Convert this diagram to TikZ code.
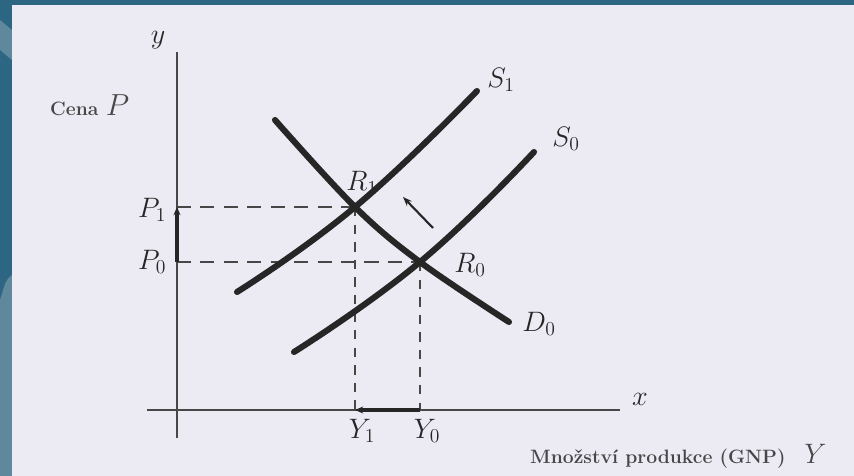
\RequirePackage{fix-cm}
\documentclass[tikz,border=0pt]{standalone}
\usepackage{fontspec}
\usetikzlibrary{arrows.meta,positioning,calc}
\definecolor{slide}{HTML}{2D6683}
\definecolor{slidelight}{HTML}{5F889C}
\definecolor{paper}{HTML}{ECEBF4}
\definecolor{ink}{HTML}{262626}
\newcommand{\bigmath}{\fontsize{24}{26}\selectfont}
\newcommand{\smalltext}{\fontsize{16.5}{18}\selectfont\bfseries}

\begin{document}
\begin{tikzpicture}[x=0.03cm,y=-0.03cm,>=Stealth,
  curve/.style={line width=5.2pt,ink,line cap=round},
  axis/.style={line width=1.4pt,ink!85},
  guide/.style={line width=1.5pt,ink!85,dash pattern=on 12pt off 8pt},
  move/.style={line width=2.6pt,ink,-{Stealth[length=7pt,width=6pt]}},
  lab/.style={font=\bigmath,text=ink,inner sep=0pt}]
\useasboundingbox (0,0) rectangle (854,476);
% slide behind the scanned page
\fill[slide] (0,0) rectangle (854,476);
\fill[slidelight] (0,20) -- (12,30) -- (12,60) -- (0,50) -- cycle;
\fill[slidelight] (0,300) .. controls (6,280) .. (12,275) -- (12,476) -- (0,476) -- cycle;
\fill[paper] (12,5) rectangle (854,476);

% axes and points
\coordinate (ytop) at (177,52);\coordinate (ybot) at (177,438);
\coordinate (xleft) at (147,410);\coordinate (xright) at (620,410);
\coordinate (P1) at (177,207);\coordinate (P0) at (177,262);
\coordinate (R1) at (355,207);\coordinate (R0) at (420,262);
\coordinate (Y1) at (355,410);\coordinate (Y0) at (420,410);
\draw[axis] (ytop)--(ybot);
\draw[axis] (xleft)--(xright);

% guides to the axes
\draw[guide] (P1)--(R1);\draw[guide] (P0)--(R0);
\draw[guide,dash pattern=on 8pt off 7pt] (R1)--(Y1);
\draw[guide,dash pattern=on 8pt off 7pt] (R0)--(Y0);

% supply and demand
\draw[curve] plot[smooth,tension=0.8] coordinates {(237,292) (R1) (477,91)};
\draw[curve] plot[smooth,tension=0.8] coordinates {(294,352) (R0) (534,152)};
\draw[curve] plot[smooth,tension=0.6] coordinates {(275,120) (R1) (R0) (509,322)};

% shifts
\draw[move] (P0)--(P1);
\draw[move,line width=3.2pt] (Y0)--(Y1);
\coordinate (m0) at (433,228);\coordinate (m1) at (403,197);
\draw[line width=1.8pt,ink,-{Stealth[length=8pt,width=6pt]}] (m0)--(m1);

% labels
\node[lab] (ylab) at (158,40) {$y$};
\node[lab] (xlab) at (640,399) {$x$};
\node[lab] (lP1) at (152,210) {$P_1$};
\node[lab] (lP0) at (152,262) {$P_0$};
\node[lab] (lR1) at (362,183) {$R_1$};
\node[lab] (lR0) at (470,265) {$R_0$};
\node[lab] (lS1) at (501,80) {$S_1$};
\node[lab] (lS0) at (566,139) {$S_0$};
\node[lab] (lD0) at (539,324) {$D_0$};
\node[lab] (lY1) at (362,431) {$Y_1$};
\node[lab] (lY0) at (427,431) {$Y_0$};
\node[anchor=base west,inner sep=0pt,text=ink!85] (cena) at (50,115)
  {\smalltext Cena \fontsize{26}{28}\selectfont\mdseries$P$};
\node[anchor=base west,inner sep=0pt,text=ink!85] (gnp) at (530,463)
  {\smalltext Množství produkce (GNP)\hspace{16pt}\bigmath\mdseries$Y$};
\end{tikzpicture}
\end{document}
